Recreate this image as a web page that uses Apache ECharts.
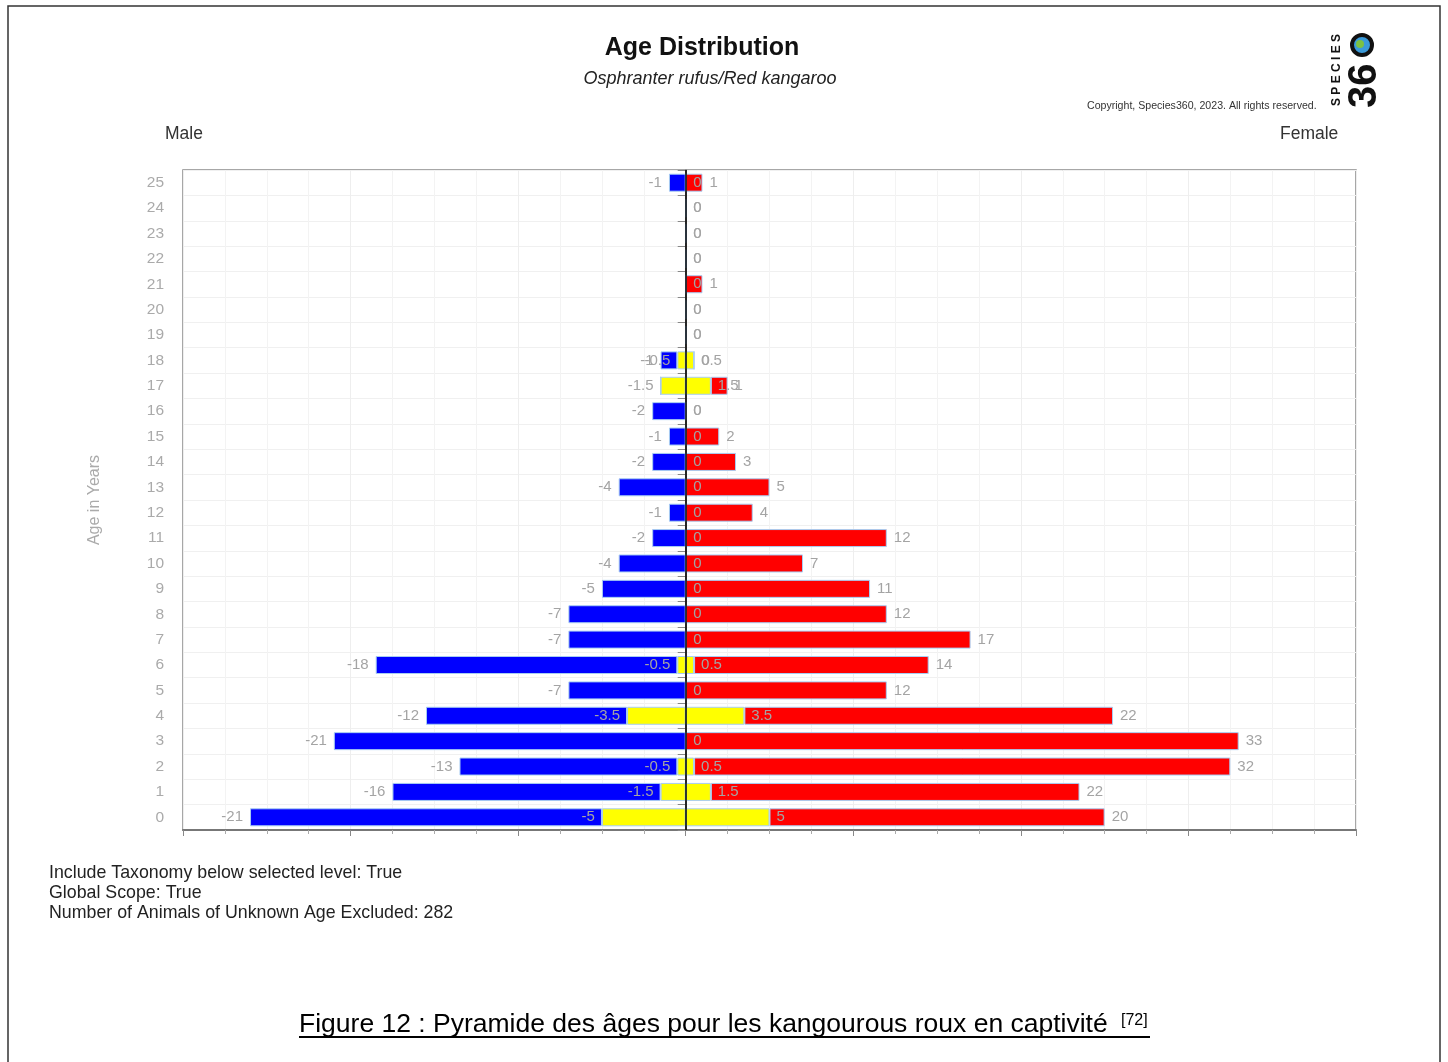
<!DOCTYPE html>
<html>
<head>
<meta charset="utf-8">
<script src="https://cdn.jsdelivr.net/npm/echarts@6/dist/echarts.min.js"></script>
<style>
  html, body { margin: 0; padding: 0; background: #fff; }
  #main { width: 1448px; height: 1062px; }
</style>
</head>
<body>
<div id="main"></div>
<script>
// ages 0..25 (bottom to top)
var ages = ['0','1','2','3','4','5','6','7','8','9','10','11','12','13','14','15','16','17','18','19','20','21','22','23','24','25'];
// males (shown on the left)
var males = [21, 16, 13, 21, 12, 7, 18, 7, 7, 5, 4, 2, 1, 4, 2, 1, 2, 0, 1, 0, 0, 0, 0, 0, 0, 1];
// females (shown on the right)
var females = [20, 22, 32, 33, 22, 12, 14, 17, 12, 11, 7, 12, 4, 5, 3, 2, 0, 1, 0, 0, 0, 1, 0, 0, 0, 1];
// unknown sex, half on each side
var unknownHalf = [5, 1.5, 0.5, 0, 3.5, 0, 0.5, 0, 0, 0, 0, 0, 0, 0, 0, 0, 0, 1.5, 0.5, 0, 0, 0, 0, 0, 0, 0];

var footerLines = [
    'Include Taxonomy below selected level: True',
    'Global Scope: True',
    'Number of Animals of Unknown Age Excluded: 282'
];

var labelFont = 'Liberation Sans, Arial, sans-serif';
var labelColor = '#a4a4a4';
var barBorder = { borderColor: '#a8cdf2', borderWidth: 1 };

function neg(arr) {
    return arr.map(function(v) { return -v; });
}

// male side hides zero labels, female side keeps them
function hideZero(p) {
    return p.value === 0 ? '' : String(p.value);
}

function barLabel(pos, fmt) {
    var l = { show: true, position: pos, distance: 7, color: labelColor, fontSize: 15, fontFamily: labelFont };
    if (fmt) l.formatter = fmt;
    return l;
}

var myChart = echarts.init(document.getElementById('main'));

var footerGraphics = footerLines.map(function(line, i) {
    return {
        type: 'text', x: 49, y: 873 + i * 20,
        style: { text: line, fontSize: 17.8, fontFamily: labelFont, fill: '#222', textVerticalAlign: 'middle' }
    };
});

var option = {
    animation: false,
    backgroundColor: '#fff',
    grid: {
        left: 183, right: 92, top: 170, bottom: 232,
        show: true, borderColor: '#8a8a8a', borderWidth: 1.5, backgroundColor: '#fff'
    },
    xAxis: {
        type: 'value',
        min: -30, max: 40, interval: 10,
        axisLabel: { show: false },
        axisLine: { show: true, onZero: false, lineStyle: { color: '#777', width: 2 } },
        axisTick: { show: true, length: 6, lineStyle: { color: '#888' } },
        minorTick: { show: true, splitNumber: 4, length: 4, lineStyle: { color: '#aaa' } },
        splitLine: { show: true, lineStyle: { color: '#eeeeee' } },
        minorSplitLine: { show: true, lineStyle: { color: '#f3f3f3' } }
    },
    yAxis: {
        type: 'category',
        data: ages,
        name: 'Age in Years',
        nameLocation: 'middle',
        nameRotate: 90,
        nameGap: 80,
        nameTextStyle: { color: '#aaa', fontSize: 16, fontFamily: labelFont },
        axisLine: { show: true, lineStyle: { color: '#777', width: 1.5 } },
        axisTick: { show: true, length: 8, lineStyle: { color: '#888' } },
        axisLabel: { color: '#aaa', fontSize: 15.5, fontFamily: labelFont, margin: 19 },
        splitLine: { show: true, lineStyle: { color: '#f0f0f0' } }
    },
    series: [
        {
            name: 'Unknown (M)', type: 'bar', stack: 'male', barWidth: 18, barGap: '-100%',
            data: neg(unknownHalf),
            itemStyle: Object.assign({ color: '#ffff00' }, barBorder),
            label: barLabel('left', hideZero)
        },
        {
            name: 'Male', type: 'bar', stack: 'male', barWidth: 18, barGap: '-100%',
            data: neg(males),
            itemStyle: Object.assign({ color: '#0000ff' }, barBorder),
            label: barLabel('left', hideZero)
        },
        {
            name: 'Unknown (F)', type: 'bar', stack: 'female', barWidth: 18, barGap: '-100%',
            data: unknownHalf,
            itemStyle: Object.assign({ color: '#ffff00' }, barBorder),
            label: barLabel('right')
        },
        {
            name: 'Female', type: 'bar', stack: 'female', barWidth: 18, barGap: '-100%',
            data: females,
            itemStyle: Object.assign({ color: '#ff0000' }, barBorder),
            label: barLabel('right'),
            markLine: {
                silent: true,
                symbol: ['none', 'none'],
                label: { show: false },
                lineStyle: { color: '#000', type: 'solid', width: 1.5 },
                data: [{ xAxis: 0 }]
            }
        }
    ],
    graphic: [
        // page frame
        {
            type: 'rect', shape: { x: 8, y: 6, width: 1432, height: 1080 },
            style: { fill: 'none', stroke: '#333', lineWidth: 1.5 }, z: -10
        },
        {
            type: 'text', x: 702, y: 48,
            style: { text: 'Age Distribution', fontSize: 25, fontWeight: 'bold', fontFamily: labelFont,
                     fill: '#111', textAlign: 'center', textVerticalAlign: 'middle' }
        },
        {
            type: 'text', x: 710, y: 79,
            style: { text: 'Osphranter rufus/Red kangaroo', fontSize: 18, fontStyle: 'italic',
                     fontFamily: labelFont, fill: '#222', textAlign: 'center', textVerticalAlign: 'middle' }
        },
        {
            type: 'text', x: 165, y: 134,
            style: { text: 'Male', fontSize: 17.5, fontFamily: labelFont, fill: '#333', textVerticalAlign: 'middle' }
        },
        {
            type: 'text', x: 1280, y: 134,
            style: { text: 'Female', fontSize: 17.5, fontFamily: labelFont, fill: '#333', textVerticalAlign: 'middle' }
        },
        {
            type: 'text', x: 1087, y: 106,
            style: { text: 'Copyright, Species360, 2023. All rights reserved.', fontSize: 10.6,
                     fontFamily: labelFont, fill: '#333', textVerticalAlign: 'middle' }
        },
        // Species360 logo
        {
            type: 'text', x: 1331, y: 106, rotation: Math.PI / 2,
            style: { text: 'S P E C I E S', fontSize: 12, fontWeight: 'bold', fontFamily: labelFont,
                     fill: '#111', textAlign: 'left', textVerticalAlign: 'top' }
        },
        {
            type: 'text', x: 1345, y: 108, rotation: Math.PI / 2,
            style: { text: '36', fontSize: 40, fontWeight: 'bold', fontFamily: labelFont,
                     fill: '#111', textAlign: 'left', textVerticalAlign: 'top' }
        },
        {
            type: 'circle', shape: { cx: 1362, cy: 45, r: 10 },
            style: { fill: '#3a9ad9', stroke: '#111', lineWidth: 4 }
        },
        {
            type: 'circle', shape: { cx: 1360, cy: 44, r: 4 },
            style: { fill: '#7cc242' }
        }
    ].concat(footerGraphics).concat([
        {
            type: 'text', x: 299, y: 1038,
            style: { text: 'Figure 12 : Pyramide des âges pour les kangourous roux en captivité',
                     fontSize: 26.5, fontFamily: labelFont, fill: '#000', textVerticalAlign: 'bottom' }
        },
        {
            type: 'text', x: 1121, y: 1021,
            style: { text: '[72]', fontSize: 16, fontFamily: labelFont, fill: '#000', textVerticalAlign: 'middle' }
        },
        {
            type: 'line', shape: { x1: 299, y1: 1037, x2: 1150, y2: 1037 },
            style: { stroke: '#000', lineWidth: 2 }
        }
    ])
};

myChart.setOption(option);
</script>
</body>
</html>
